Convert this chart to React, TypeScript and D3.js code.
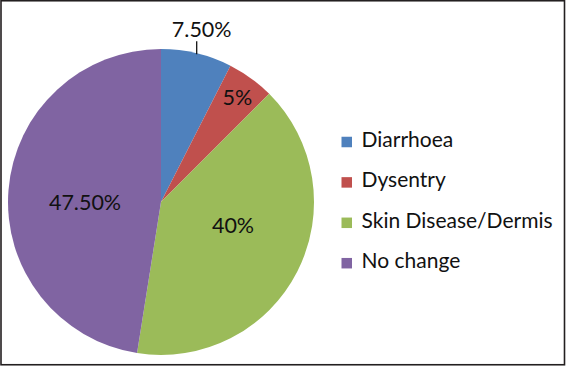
import React, { useEffect, useRef } from "react";
import * as d3 from "d3";

// chart data
const categories = ["Diarrhoea", "Dysentry", "Skin Disease/Dermis", "No change"];
const values = [7.5, 5, 40, 47.5];
const valueLabels = ["7.50%", "5%", "40%", "47.50%"];
const colors = ["#4F81BD", "#C0504D", "#9BBB59", "#8064A2"];

const W = 566;
const H = 366;
const FONT = "Lato, 'Open Sans', sans-serif";

function drawChart(svgEl: SVGSVGElement) {
  const svg = d3.select(svgEl);
  svg.selectAll("*").remove();

  // frame
  svg
    .append("rect")
    .attr("x", 1)
    .attr("y", 0.75)
    .attr("width", W - 2.5)
    .attr("height", H - 2)
    .attr("fill", "#fff")
    .attr("stroke", "#231f20")
    .attr("stroke-width", 1.6);

  const cx = 161;
  const cy = 202;
  const radius = 153;

  const g = svg.append("g").attr("transform", `translate(${cx},${cy})`);

  const pie = d3.pie<number>().sort(null).value((d) => d);
  const arcs = pie(values);
  const arc = d3.arc<d3.PieArcDatum<number>>().innerRadius(0).outerRadius(radius);

  g.selectAll("path.slice")
    .data(arcs)
    .enter()
    .append("path")
    .attr("class", "slice")
    .attr("d", arc)
    .attr("fill", (_d, i) => colors[i]);

  // labels: small first slice sits outside with a leader line
  arcs.forEach((d, i) => {
    const mid = (d.startAngle + d.endAngle) / 2;
    const sx = Math.sin(mid);
    const sy = -Math.cos(mid);
    if (i === 0) {
      const px = sx * radius;
      const py = sy * radius;
      g.append("line")
        .attr("x1", px)
        .attr("y1", py + 1)
        .attr("x2", px)
        .attr("y2", py - 12)
        .attr("stroke", "#000")
        .attr("stroke-width", 1.2);
      g.append("text")
        .attr("x", px + 5)
        .attr("y", py - 16)
        .attr("text-anchor", "middle")
        .attr("font-family", FONT)
        .attr("font-size", 21.5)
        .attr("fill", "#111")
        .text(valueLabels[i]);
    } else {
      const r = i === 1 ? radius * 0.85 : radius * 0.5;
      let x = sx * r;
      let y = sy * r;
      if (i === 2) {
        x = 72;
        y = 23;
      }
      if (i === 3) {
        x = -76;
        y = 0;
      }
      g.append("text")
        .attr("x", x)
        .attr("y", y)
        .attr("dy", "0.36em")
        .attr("text-anchor", "middle")
        .attr("font-family", FONT)
        .attr("font-size", 21.5)
        .attr("fill", "#111")
        .text(valueLabels[i]);
    }
  });

  // legend
  const legend = svg.append("g").attr("transform", "translate(341.5,142)");
  const rows = legend
    .selectAll("g.row")
    .data(categories)
    .enter()
    .append("g")
    .attr("class", "row")
    .attr("transform", (_d, i) => `translate(0,${i * 40.4})`);
  rows
    .append("rect")
    .attr("x", 0)
    .attr("y", -5.25)
    .attr("width", 10.5)
    .attr("height", 10.5)
    .attr("fill", (_d, i) => colors[i]);
  rows
    .append("text")
    .attr("x", 20)
    .attr("y", 5)
    .attr("font-family", FONT)
    .attr("font-size", 21)
    .attr("fill", "#111")
    .text((d) => d);
}

export default function App() {
  const svgEl = useRef<SVGSVGElement>(null);

  useEffect(() => {
    if (!svgEl.current) return;
    drawChart(svgEl.current);
  }, []);

  return (
    <div style={{ position: "fixed", left: 0, top: 0 }}>
      <svg ref={svgEl} width={W} height={H} style={{ display: "block" }} />
    </div>
  );
}
